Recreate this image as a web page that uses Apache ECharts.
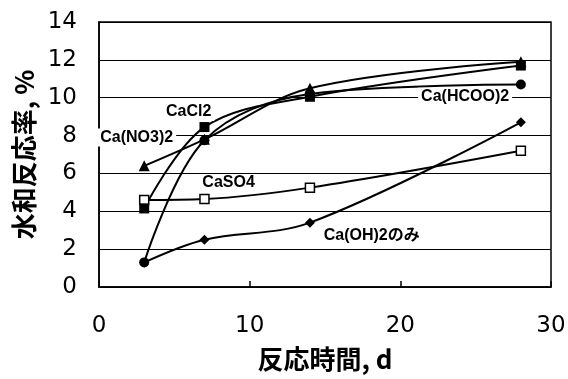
<!DOCTYPE html>
<html>
<head>
<meta charset="utf-8">
<script src="https://cdn.jsdelivr.net/npm/echarts@6/dist/echarts.min.js"></script>
<style>
  html, body { margin: 0; padding: 0; background: #fff; }
  #chart { width: 568px; height: 379px; }
</style>
</head>
<body>
<div id="chart"></div>
<script>
// Reaction time (days) and hydration ratio (%) for each additive
const days = [3, 7, 14, 28];
const caOH2Only = [1.3, 2.5, 3.4, 8.7];
const caSO4 = [4.6, 4.65, 5.25, 7.2];
const caHCOO2 = [1.3, 7.75, 10.2, 10.7];
const caCl2 = [4.15, 8.45, 10.05, 11.7];
const caNO32 = [6.4, 7.8, 10.5, 11.9];

const yTicks = [0, 2, 4, 6, 8, 10, 12, 14];
const xTicks = [0, 10, 20, 30];

const latin = '"Liberation Sans", Arial, "Noto Sans CJK JP", sans-serif';
const digits = '"DejaVu Sans", "Liberation Sans", sans-serif';
const cjk = '"Noto Sans CJK JP", "Liberation Sans", sans-serif';

function pairs(ys) {
  return days.map((d, i) => [d, ys[i]]);
}

// Text tag placed at a point in data space
function tag(text, coord) {
  return {
    markPoint: {
      symbol: 'circle',
      symbolSize: 0,
      silent: true,
      data: [{ coord: coord }],
      label: {
        show: true,
        position: 'inside',
        formatter: text,
        color: '#000',
        fontFamily: latin,
        fontWeight: 'bold',
        fontSize: 16,
        backgroundColor: '#fff',
        padding: [1, 3]
      }
    }
  };
}

function line(name, ys, symbol, size, fill, label, labelAt) {
  return Object.assign({
    name: name,
    type: 'line',
    data: pairs(ys),
    smooth: 0.35,
    symbol: symbol,
    symbolSize: size,
    showAllSymbol: true,
    lineStyle: { color: '#000', width: 2 },
    itemStyle: { color: fill, borderColor: '#000', borderWidth: fill === '#fff' ? 1.5 : 0 },
    emphasis: { disabled: true }
  }, tag(label, labelAt));
}

const chart = echarts.init(document.getElementById('chart'), null, { renderer: 'canvas' });

chart.setOption({
  backgroundColor: '#fff',
  animation: false,
  grid: {
    left: 99, top: 22, right: 17, bottom: 92,
    containLabel: false, outerBoundsMode: 'none',
    show: true, borderColor: '#000', borderWidth: 1.5
  },
  xAxis: {
    type: 'value',
    min: xTicks[0],
    max: xTicks[xTicks.length - 1],
    interval: 10,
    name: '反応時間, d',
    nameLocation: 'middle',
    nameGap: 59,
    nameTextStyle: { fontFamily: cjk, fontSize: 26, fontWeight: 'bold', color: '#000' },
    axisLine: { show: true, lineStyle: { color: '#000', width: 1.5 } },
    axisTick: { show: true, inside: true, length: 6, lineStyle: { color: '#000', width: 1.5 } },
    axisLabel: { fontFamily: digits, fontSize: 23, color: '#000', margin: 28 },
    splitLine: { show: false }
  },
  yAxis: {
    type: 'value',
    min: yTicks[0],
    max: yTicks[yTicks.length - 1],
    interval: 2,
    name: '水和反応率, %',
    nameLocation: 'middle',
    nameGap: 62,
    nameRotate: 90,
    nameTextStyle: { fontFamily: cjk, fontSize: 26, fontWeight: 'bold', color: '#000' },
    axisLine: { show: true, lineStyle: { color: '#000', width: 1.5 } },
    axisTick: { show: false },
    axisLabel: { fontFamily: digits, fontSize: 23, color: '#000', margin: 22 },
    splitLine: { show: true, lineStyle: { color: '#000', width: 1.2 } }
  },
  series: [
    line('Ca(OH)2のみ', caOH2Only, 'diamond', 10, '#000', 'Ca(OH)2のみ', [18.1, 2.7]),
    line('CaSO4', caSO4, 'rect', 9, '#fff', 'CaSO4', [8.6, 5.5]),
    line('Ca(HCOO)2', caHCOO2, 'circle', 10, '#000', 'Ca(HCOO)2', [24.3, 10.05]),
    line('CaCl2', caCl2, 'rect', 10, '#000', 'CaCl2', [5.95, 9.25]),
    line('Ca(NO3)2', caNO32, 'triangle', 11, '#000', 'Ca(NO3)2', [2.5, 7.9])
  ]
});
</script>
</body>
</html>
